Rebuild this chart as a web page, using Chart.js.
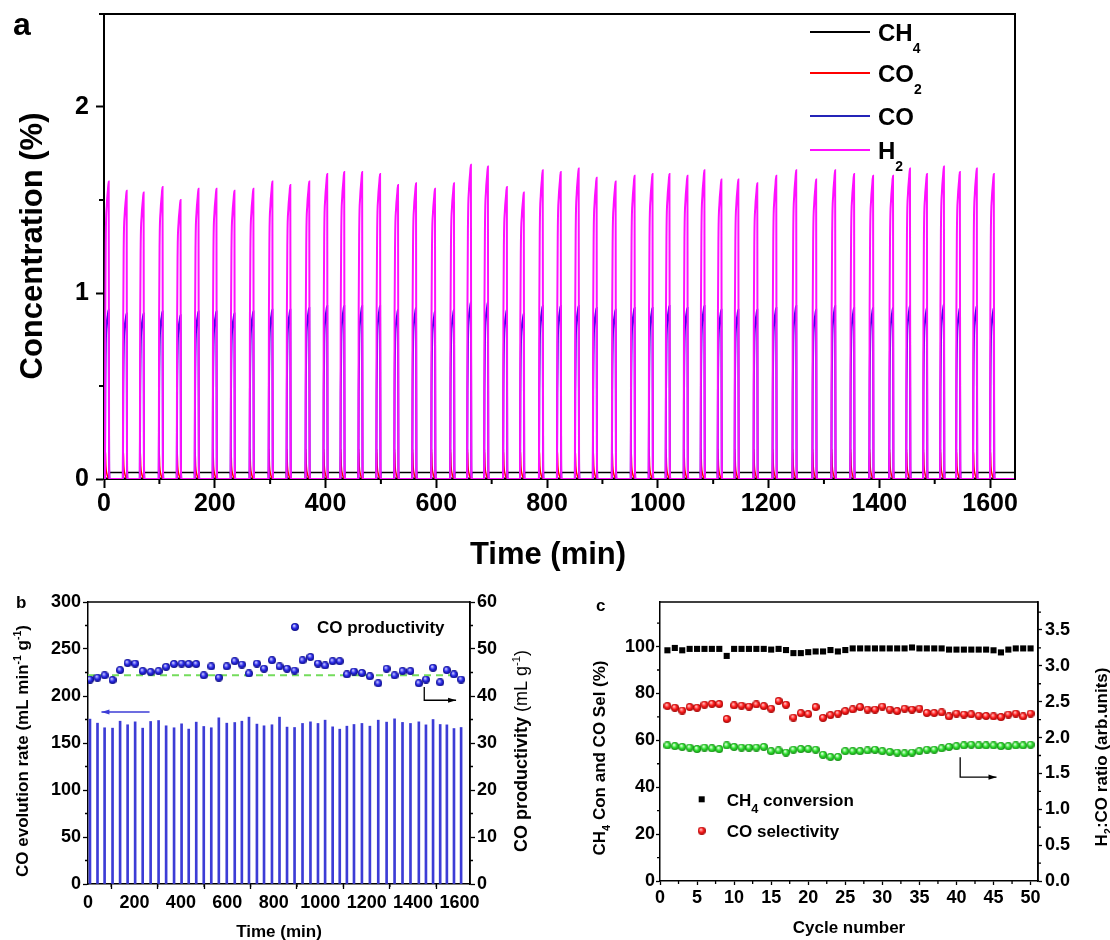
<!DOCTYPE html>
<html>
<head>
<meta charset="utf-8">
<script src="https://cdn.jsdelivr.net/npm/chart.js@4.4.1/dist/chart.umd.min.js"></script>
<style>
  html, body { margin: 0; padding: 0; background: #fff; overflow: hidden; }
  canvas { position: absolute; }
</style>
</head>
<body>
<canvas id="ca" width="1110" height="580" style="left:0px;top:0px"></canvas>
<canvas id="cb" width="580" height="355" style="left:0px;top:585px"></canvas>
<canvas id="cc" width="530" height="355" style="left:580px;top:585px"></canvas>
<script>
const FAM = '"Liberation Sans", Arial, Helvetica, sans-serif';

// ---- panel a : outlet gas concentration, 50 cycles
const cycleTimes = [8.5, 40.9, 71.5, 105.7, 138.2, 170.6, 203, 235.5, 269.7, 304,
  336.4, 370.6, 403, 433.7, 466.1, 498.5, 530.9, 563.4, 597.6, 631.9,
  662.5, 693.2, 727.4, 758, 792.2, 824.7, 857.1, 889.5, 923.8, 958,
  990.4, 1021, 1053.5, 1084.1, 1114.8, 1145.4, 1179.6, 1213.9, 1249.9, 1285.9,
  1320.2, 1354.4, 1388.7, 1424.7, 1455.3, 1485.9, 1516.6, 1545.4, 1576, 1606.7];
const h2Peaks = [1.60, 1.55, 1.54, 1.57, 1.50, 1.56, 1.56, 1.55, 1.56, 1.60,
  1.58, 1.60, 1.64, 1.65, 1.65, 1.64, 1.58, 1.59, 1.56, 1.59,
  1.69, 1.68, 1.57, 1.54, 1.66, 1.65, 1.67, 1.62, 1.60, 1.63,
  1.64, 1.64, 1.63, 1.66, 1.61, 1.61, 1.59, 1.63, 1.66, 1.61,
  1.66, 1.64, 1.63, 1.63, 1.67, 1.64, 1.68, 1.65, 1.67, 1.64];
const coPeaks = [0.91, 0.89, 0.89, 0.90, 0.88, 0.90, 0.90, 0.89, 0.90, 0.91,
  0.91, 0.92, 0.93, 0.93, 0.93, 0.93, 0.91, 0.92, 0.90, 0.91,
  0.95, 0.95, 0.91, 0.89, 0.93, 0.93, 0.93, 0.92, 0.91, 0.92,
  0.92, 0.93, 0.92, 0.93, 0.91, 0.91, 0.91, 0.92, 0.93, 0.91,
  0.93, 0.92, 0.92, 0.92, 0.93, 0.92, 0.94, 0.92, 0.93, 0.92];
// one reduction pulse, minutes relative to the H2 maximum
const pulseOffsets = [-7.5, -6.8, -6.2, -5.2, -3.5, -1.5, 0, 0.7, 1.6];
const h2Pulse  = [0, 0, 0.55, 0.82, 0.92, 0.97, 1, 0.06, 0];
const coPulse  = [0, 0, 0.50, 0.80, 0.92, 0.97, 1, 0.06, 0];
const co2Pulse = [0, 0, 0.16, 0.07, 0.03, 0.01, 0.004, 0.01, 0];
const ch4Pulse = [0.035, 0.02, 0.004, 0.004, 0.004, 0.004, 0.004, 0.015, 0.035];
const timeMax = 1645;

// ---- panel b : CO evolution rate (bars) and CO productivity (dots)
const evolutionRate = [175.4, 171.1, 166.2, 165.8, 173.2, 169.4, 172.5, 165.8, 172.9, 173.9,
  168.3, 166.2, 170.4, 164.8, 172.2, 167.6, 166.2, 176.8, 171.1, 171.8,
  173.2, 177.5, 170.1, 168.3, 169.4, 177.5, 166.9, 166.5, 170.8, 172.5,
  170.8, 174.3, 167.2, 164.7, 167.9, 169.7, 170.8, 167.9, 174.3, 172.2,
  175.7, 171.9, 170.8, 172.5, 169.3, 175.0, 169.7, 169.3, 165.4, 166.5];
const productivity = [43.5, 43.9, 44.4, 43.4, 45.5, 47.0, 46.9, 45.3, 45.1, 45.3,
  46.2, 46.8, 46.9, 46.8, 46.8, 44.4, 46.3, 43.9, 46.3, 47.4,
  46.7, 44.8, 46.9, 45.8, 47.6, 46.3, 45.8, 45.4, 47.6, 48.3,
  46.9, 46.5, 47.4, 47.4, 44.6, 45.2, 44.9, 44.2, 42.7, 45.8,
  44.4, 45.3, 45.3, 42.7, 43.5, 46.0, 42.9, 45.5, 44.6, 43.5];
const avgProductivity = 44.4;
const avgSpan = [0, 1600];

// ---- panel c : per-cycle conversion, selectivity, H2:CO
const cycles = [1, 2, 3, 4, 5, 6, 7, 8, 9, 10, 11, 12, 13, 14, 15, 16, 17, 18, 19, 20,
  21, 22, 23, 24, 25, 26, 27, 28, 29, 30, 31, 32, 33, 34, 35, 36, 37, 38, 39, 40,
  41, 42, 43, 44, 45, 46, 47, 48, 49, 50];
const ch4Conversion = [98.4, 99.4, 98.4, 99.0, 99.0, 99.0, 99.0, 99.0, 96.0, 99.0,
  99.0, 99.0, 99.0, 99.0, 98.7, 99.0, 98.5, 97.2, 97.2, 97.6,
  97.9, 97.9, 98.5, 97.9, 98.5, 99.2, 99.2, 99.2, 99.2, 99.2,
  99.2, 99.2, 99.2, 99.6, 99.2, 99.2, 99.2, 99.2, 98.7, 98.7,
  98.7, 98.7, 98.7, 98.7, 98.4, 97.5, 98.7, 99.2, 99.2, 99.2];
const coSelectivity = [74.6, 73.9, 72.7, 74.2, 73.9, 75.2, 75.6, 75.5, 69.1, 74.9,
  74.8, 74.4, 75.3, 74.6, 73.5, 76.8, 75.2, 69.7, 71.6, 71.2,
  74.2, 69.6, 70.8, 71.4, 72.5, 73.2, 74.2, 73.1, 73.1, 74.4,
  73.1, 72.5, 73.5, 73.1, 73.5, 71.7, 71.7, 71.9, 70.2, 71.4,
  71.0, 71.1, 70.5, 70.4, 70.2, 69.9, 71.0, 71.4, 70.2, 71.4];
const h2coRatio = [1.89, 1.88, 1.87, 1.86, 1.84, 1.86, 1.85, 1.84, 1.89, 1.87,
  1.86, 1.86, 1.86, 1.87, 1.81, 1.82, 1.79, 1.83, 1.84, 1.84,
  1.83, 1.76, 1.73, 1.73, 1.81, 1.81, 1.81, 1.82, 1.83, 1.81,
  1.80, 1.79, 1.78, 1.79, 1.81, 1.83, 1.83, 1.85, 1.87, 1.88,
  1.89, 1.90, 1.89, 1.89, 1.89, 1.88, 1.88, 1.89, 1.89, 1.90];

Chart.defaults.font.family = FAM;
Chart.defaults.color = '#000';
Chart.defaults.animation = false;

function trace(pulse, peaks) {
  const k = i => (peaks ? peaks[i] : 1);
  const pts = [{ x: 0, y: pulse[0] * k(0) }];
  cycleTimes.forEach((t, i) => {
    pulseOffsets.forEach((o, j) => pts.push({ x: t + o, y: pulse[j] * k(i) }));
  });
  pts.push({ x: timeMax, y: pulse[pulse.length - 1] });
  return pts;
}

function sphere(d, light, base, dark) {
  const c = document.createElement('canvas');
  c.width = c.height = d;
  const g = c.getContext('2d');
  const r = d / 2;
  const gr = g.createRadialGradient(r * 0.75, r * 0.65, r * 0.1, r, r, r);
  gr.addColorStop(0, light);
  gr.addColorStop(0.5, base);
  gr.addColorStop(1, dark);
  g.fillStyle = gr;
  g.beginPath();
  g.arc(r, r, r, 0, Math.PI * 2);
  g.fill();
  return c;
}
const blueBall = sphere(8, '#c8c8ff', '#2a2ae8', '#0c0c80');
const redBall = sphere(8, '#ffc0c0', '#ff2020', '#a00000');
const greenBall = sphere(8, '#e0ffe0', '#30e030', '#128a12');

// text with sub/superscripts; y is the cap-height centre
function rich(ctx, parts, x, y, o) {
  const size = o.size, scr = o.scr || 0.62;
  ctx.save();
  ctx.translate(x, y);
  if (o.rot) ctx.rotate(o.rot);
  ctx.fillStyle = '#000';
  ctx.textBaseline = 'alphabetic';
  ctx.textAlign = 'left';
  const font = f => {
    const small = f.includes('sub') || f.includes('sup');
    return (f.includes('light') ? 'normal ' : 'bold ') + (small ? size * scr : size) + 'px ' + FAM;
  };
  const widths = parts.map(([t, f]) => { ctx.font = font(f); return ctx.measureText(t).width; });
  const total = widths.reduce((a, b) => a + b, 0);
  let cx = o.align === 'left' ? 0 : -total / 2;
  const base = size * 0.36;
  parts.forEach(([t, f], i) => {
    ctx.font = font(f);
    let dy = base;
    if (f.includes('sub')) dy += size * (o.sub || 0.3);
    if (f.includes('sup')) dy -= size * (o.sup || 0.42);
    ctx.fillText(t, cx, dy);
    cx += widths[i];
  });
  ctx.restore();
}

function arrow(ctx, pts, color) {
  ctx.save();
  ctx.strokeStyle = color; ctx.fillStyle = color; ctx.lineWidth = 1.3;
  ctx.beginPath();
  pts.forEach(([x, y], i) => (i ? ctx.lineTo(x, y) : ctx.moveTo(x, y)));
  ctx.stroke();
  const [x1, y1] = pts[pts.length - 2], [x2, y2] = pts[pts.length - 1];
  const a = Math.atan2(y2 - y1, x2 - x1), L = 8, W = 2.6;
  ctx.beginPath();
  ctx.moveTo(x2, y2);
  ctx.lineTo(x2 - L * Math.cos(a) + W * Math.sin(a), y2 - L * Math.sin(a) - W * Math.cos(a));
  ctx.lineTo(x2 - L * Math.cos(a) - W * Math.sin(a), y2 - L * Math.sin(a) + W * Math.cos(a));
  ctx.closePath();
  ctx.fill();
  ctx.restore();
}

const minorTicks = {
  id: 'minorTicks',
  afterDraw(chart, args, opts) {
    const ctx = chart.ctx;
    Object.keys(opts).forEach(id => {
      const s = chart.scales[id];
      if (!s || !Array.isArray(opts[id])) return;
      const [step, len] = opts[id];
      const major = s.options.ticks.stepSize;
      ctx.save();
      ctx.strokeStyle = '#000';
      ctx.lineWidth = s.options.grid.tickWidth;
      ctx.beginPath();
      for (let k = Math.ceil(s.min / step); k * step <= s.max + 1e-9; k++) {
        const v = k * step, r = v / major;
        if (Math.abs(r - Math.round(r)) < 1e-6) continue;
        const p = s.getPixelForValue(v);
        if (s.isHorizontal()) { ctx.moveTo(p, s.top); ctx.lineTo(p, s.top + len); }
        else if (s.position === 'left') { ctx.moveTo(s.right, p); ctx.lineTo(s.right - len, p); }
        else { ctx.moveTo(s.left, p); ctx.lineTo(s.left + len, p); }
      }
      ctx.stroke();
      ctx.restore();
    });
  }
};

function frame(chart, w) {
  const { ctx, chartArea: a } = chart;
  ctx.save();
  ctx.strokeStyle = '#000';
  ctx.lineWidth = w;
  ctx.beginPath();
  ctx.moveTo(a.left, a.top); ctx.lineTo(a.right, a.top); ctx.lineTo(a.right, a.bottom);
  ctx.stroke();
  ctx.restore();
}

const fixW = w => s => { s.width = w; s.paddingTop = 0; s.paddingBottom = 0; };
const fixH = h => s => { s.height = h; s.paddingLeft = 0; s.paddingRight = 0; };

function axis(o) {
  return {
    type: 'linear', min: o.min, max: o.max, position: o.pos, offset: false,
    ticks: {
      stepSize: o.step, includeBounds: false, autoSkip: false, maxRotation: 0,
      font: { size: o.font, weight: 'bold' }, color: '#000', padding: o.pad,
      callback: o.fmt || (v => String(v))
    },
    grid: { drawOnChartArea: false, tickLength: o.tl, tickWidth: o.tw, tickColor: '#000' },
    border: { color: '#000', width: o.bw },
    afterFit: o.fit
  };
}

const base = {
  responsive: false, devicePixelRatio: 1, animation: false,
  events: [],
  elements: { point: { radius: 0 }, line: { cubicInterpolationMode: 'monotone' } }
};

// ---------------- panel a
new Chart(document.getElementById('ca'), {
  type: 'line',
  data: {
    datasets: [
      { label: 'H2', data: trace(h2Pulse, h2Peaks), borderColor: '#ff10ff', borderWidth: 2, order: 0 },
      { label: 'CO', data: trace(coPulse, coPeaks), borderColor: '#3a10e0', borderWidth: 2, order: 1 },
      { label: 'CO2', data: trace(co2Pulse), borderColor: '#ff0000', borderWidth: 1.5, order: 2 },
      { label: 'CH4', data: trace(ch4Pulse), borderColor: '#000000', borderWidth: 1.5, order: 3 }
    ]
  },
  options: Object.assign({}, base, {
    layout: { padding: { left: 0, right: 95, top: 14, bottom: 0 } },
    plugins: { legend: { display: false }, tooltip: { enabled: false }, minorTicks: { x: [100, 5], y: [0.5, 5] } },
    scales: {
      x: axis({ min: 0, max: timeMax, pos: 'bottom', step: 200, font: 25, pad: 1, tl: 9, tw: 2, bw: 2, fit: fixH(101) }),
      y: axis({ min: 0, max: 2.5, pos: 'left', step: 1, font: 25, pad: 7, tl: 8, tw: 2, bw: 2, fit: fixW(104) })
    }
  }),
  plugins: [minorTicks, {
    id: 'decorA',
    afterDraw(chart) {
      const ctx = chart.ctx;
      frame(chart, 2);
      const entries = [
        ['#000000', [['CH', ''], ['4', 'sub']], 32],
        ['#ff0000', [['CO', ''], ['2', 'sub']], 73],
        ['#2424b8', [['CO', '']], 116],
        ['#ff10ff', [['H', ''], ['2', 'sub']], 150]
      ];
      entries.forEach(([c, parts, y]) => {
        ctx.save();
        ctx.strokeStyle = c; ctx.lineWidth = 2;
        ctx.beginPath(); ctx.moveTo(810, y); ctx.lineTo(870, y); ctx.stroke();
        ctx.restore();
        rich(ctx, parts, 878, y, { size: 24, scr: 0.58, sub: 0.5, align: 'left' });
      });
      rich(ctx, [['Concentration (%)', '']], 31, 246, { size: 31, rot: -Math.PI / 2 });
      rich(ctx, [['Time (min)', '']], 548, 553, { size: 31 });
      rich(ctx, [['a', '']], 13, 23.5, { size: 32, align: 'left' });
    }
  }]
});

// ---------------- panel b
new Chart(document.getElementById('cb'), {
  type: 'bar',
  data: {
    datasets: [
      { type: 'line', label: 'CO productivity', data: productivity.map((v, i) => ({ x: cycleTimes[i], y: v })),
        yAxisID: 'y2', showLine: false, pointRadius: 4, pointStyle: blueBall, order: 0 },
      { type: 'line', label: 'mean', data: avgSpan.map(x => ({ x, y: avgProductivity })),
        yAxisID: 'y2', borderColor: '#74dc5c', borderWidth: 2, borderDash: [7, 5], pointRadius: 0, order: 1 },
      { type: 'bar', label: 'CO evolution rate', data: evolutionRate.map((v, i) => ({ x: cycleTimes[i], y: v })),
        yAxisID: 'y', backgroundColor: '#3c3cd6', barThickness: 2, grouped: false, order: 2 }
    ]
  },
  options: Object.assign({}, base, {
    layout: { padding: { left: 0, right: 0, top: 17, bottom: 0 } },
    plugins: { legend: { display: false }, tooltip: { enabled: false }, minorTicks: { x: [100, 3], y: [25, 3], y2: [5, 3] } },
    scales: {
      x: axis({ min: 0, max: timeMax, pos: 'bottom', step: 200, font: 18, pad: 3, tl: 5, tw: 1.3, bw: 1.5, fit: fixH(56) }),
      y: axis({ min: 0, max: 300, pos: 'left', step: 50, font: 18, pad: 2, tl: 5, tw: 1.3, bw: 1.5, fit: fixW(88) }),
      y2: axis({ min: 0, max: 60, pos: 'right', step: 10, font: 18, pad: 2, tl: 5, tw: 1.3, bw: 1.5, fit: fixW(110) })
    }
  }),
  plugins: [minorTicks, {
    id: 'decorB',
    afterDraw(chart) {
      const { ctx, scales: { x, y, y2 } } = chart;
      frame(chart, 1.5);
      rich(ctx, [['CO evolution rate (mL min', ''], ['-1', 'sup'], [' g', ''], ['-1', 'sup'], [')', '']],
        22, 166, { size: 17, rot: -Math.PI / 2 });
      rich(ctx, [['CO productivity', ''], [' (mL g', 'light'], ['-1', 'sup light'], [')', 'light']],
        521, 166, { size: 18, rot: -Math.PI / 2 });
      rich(ctx, [['Time (min)', '']], 279, 346, { size: 17 });
      rich(ctx, [['b', '']], 16, 17.2, { size: 17, align: 'left' });
      ctx.drawImage(blueBall, 291, 38);
      rich(ctx, [['CO productivity', '']], 317, 42, { size: 17, align: 'left' });
      arrow(ctx, [[x.getPixelForValue(265), y.getPixelForValue(183)], [x.getPixelForValue(58), y.getPixelForValue(183)]], '#3c3cd6');
      arrow(ctx, [[x.getPixelForValue(1448), y2.getPixelForValue(41.9)], [x.getPixelForValue(1448), y2.getPixelForValue(39.1)],
        [x.getPixelForValue(1585), y2.getPixelForValue(39.1)]], '#000');
    }
  }]
});

// ---------------- panel c
new Chart(document.getElementById('cc'), {
  type: 'line',
  data: {
    datasets: [
      { label: 'CH4 conversion', data: ch4Conversion.map((v, i) => ({ x: cycles[i], y: v })), yAxisID: 'y',
        showLine: false, pointStyle: 'rect', pointRadius: 4.3, pointBackgroundColor: '#000', pointBorderWidth: 0 },
      { label: 'CO selectivity', data: coSelectivity.map((v, i) => ({ x: cycles[i], y: v })), yAxisID: 'y',
        showLine: false, pointStyle: redBall, pointRadius: 4 },
      { label: 'H2:CO', data: h2coRatio.map((v, i) => ({ x: cycles[i], y: v })), yAxisID: 'y2',
        showLine: false, pointStyle: greenBall, pointRadius: 4 }
    ]
  },
  options: Object.assign({}, base, {
    layout: { padding: { left: 0, right: 0, top: 17, bottom: 0 } },
    plugins: { legend: { display: false }, tooltip: { enabled: false }, minorTicks: { x: [2.5, 3], y: [10, 3], y2: [0.25, 3] } },
    scales: {
      x: axis({ min: 0, max: 51, pos: 'bottom', step: 5, font: 18, pad: 2, tl: 4, tw: 1.3, bw: 1.5, fit: fixH(59) }),
      y: axis({ min: 0, max: 119, pos: 'left', step: 20, font: 18, pad: 1, tl: 4, tw: 1.3, bw: 1.5, fit: fixW(80) }),
      y2: axis({ min: 0, max: 3.89, pos: 'right', step: 0.5, font: 18, pad: 3, tl: 4, tw: 1.3, bw: 1.5, fit: fixW(72),
        fmt: v => v.toFixed(1) })
    }
  }),
  plugins: [minorTicks, {
    id: 'decorC',
    afterDraw(chart) {
      const { ctx, scales: { x, y2 } } = chart;
      frame(chart, 1.5);
      rich(ctx, [['CH', ''], ['4', 'sub'], [' Con and CO Sel (%)', '']], 19, 173, { size: 17, rot: -Math.PI / 2, scr: 0.65 });
      rich(ctx, [['H', ''], ['2', 'sub'], [':CO ratio (arb.units)', '']], 521, 172, { size: 17, rot: -Math.PI / 2, scr: 0.65 });
      rich(ctx, [['Cycle number', '']], 269, 342, { size: 17 });
      rich(ctx, [['c', '']], 16, 19.6, { size: 17, align: 'left' });
      ctx.fillStyle = '#000';
      ctx.fillRect(118.7, 211.3, 6, 6);
      rich(ctx, [['CH', ''], ['4', 'sub'], [' conversion', '']], 146.7, 215, { size: 17, align: 'left', scr: 0.75, sub: 0.4 });
      ctx.drawImage(redBall, 117.7, 241.7);
      rich(ctx, [['CO selectivity', '']], 146.7, 245.7, { size: 17, align: 'left' });
      arrow(ctx, [[x.getPixelForValue(40.5), y2.getPixelForValue(1.727)], [x.getPixelForValue(40.5), y2.getPixelForValue(1.448)],
        [x.getPixelForValue(45.4), y2.getPixelForValue(1.448)]], '#000');
    }
  }]
});
</script>
</body>
</html>
